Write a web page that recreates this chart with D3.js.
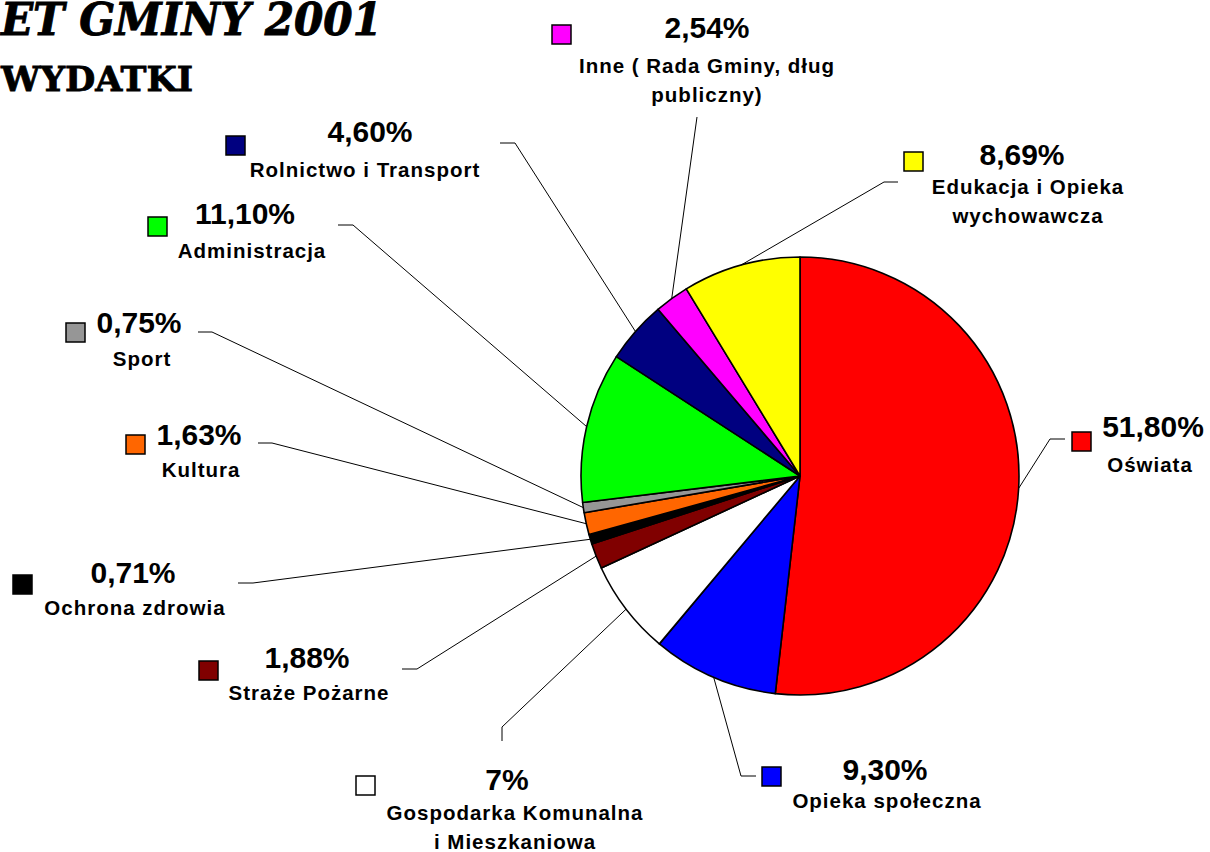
<!DOCTYPE html>
<html>
<head>
<meta charset="utf-8">
<script src="https://cdn.jsdelivr.net/npm/d3@7"></script>
<style>
  html, body { margin: 0; padding: 0; background: #fff; }
  svg { display: block; }
</style>
</head>
<body>
<svg id="chart" width="1210" height="852"></svg>
<script>
// ---- data ----
const categories = [
  "Oświata", "Opieka społeczna", "Gospodarka Komunalna i Mieszkaniowa",
  "Straże Pożarne", "Ochrona zdrowia", "Kultura", "Sport", "Administracja",
  "Rolnictwo i Transport", "Inne ( Rada Gminy, dług publiczny)",
  "Edukacja i Opieka wychowawcza"
];
const values = [51.80, 9.30, 7, 1.88, 0.71, 1.63, 0.75, 11.10, 4.60, 2.54, 8.69];
const valueLabels = ["51,80%", "9,30%", "7%", "1,88%", "0,71%", "1,63%", "0,75%", "11,10%", "4,60%", "2,54%", "8,69%"];
const nameLines = [
  ["Oświata"], ["Opieka społeczna"], ["Gospodarka Komunalna", "i Mieszkaniowa"],
  ["Straże Pożarne"], ["Ochrona zdrowia"], ["Kultura"], ["Sport"], ["Administracja"],
  ["Rolnictwo i Transport"], ["Inne ( Rada Gminy, dług", "publiczny)"],
  ["Edukacja i Opieka", "wychowawcza"]
];
const colors = ["#FF0000", "#0000FF", "#FFFFFF", "#800000", "#000000", "#FF6600",
                "#969696", "#00FF00", "#000080", "#FF00FF", "#FFFF00"];
const titleText = "ET GMINY 2001";
const subtitleText = "WYDATKI";

// ---- layout (label placement) ----
const layout = [
  { sq: [1072, 432], pct: [1153, 437], name: [1150, 472], elbow: [1050, 439], end: [1065, 439] },
  { sq: [762, 767],  pct: [885, 780],  name: [887, 808],  elbow: [741, 776],  end: [756, 776] },
  { sq: [356, 776],  pct: [507, 790],  name: [515, 820],  elbow: [502, 727],  end: [502, 741] },
  { sq: [199, 661],  pct: [307, 668],  name: [309, 700],  elbow: [417, 669],  end: [402, 669] },
  { sq: [13, 575],   pct: [133, 583],  name: [135, 615],  elbow: [253, 583],  end: [238, 583] },
  { sq: [126, 435],  pct: [199, 445],  name: [201, 477],  elbow: [272, 443],  end: [258, 443] },
  { sq: [66, 323],   pct: [139, 333],  name: [142, 366],  elbow: [212, 332],  end: [198, 332] },
  { sq: [148, 217],  pct: [245, 224],  name: [252, 258],  elbow: [353, 225],  end: [338, 225] },
  { sq: [226, 136],  pct: [370, 142],  name: [365, 177],  elbow: [515, 143],  end: [500, 143] },
  { sq: [552, 25],   pct: [707, 38],   name: [707, 73],   elbow: [697, 117],  end: [697, 117] },
  { sq: [904, 152],  pct: [1022, 165], name: [1028, 194], elbow: [884, 182],  end: [898, 182] }
];
const cx = 800, cy = 476, R = 219;
const lineGap = 29;

const svg = d3.select("#chart");

// titles
svg.append("text")
  .attr("x", 1).attr("y", 35)
  .attr("font-family", "DejaVu Serif")
  .attr("font-weight", "bold").attr("font-style", "italic")
  .attr("font-size", 44)
  .attr("textLength", 381).attr("lengthAdjust", "spacingAndGlyphs")
  .attr("stroke", "#000").attr("stroke-width", 0.9)
  .text(titleText);
svg.append("text")
  .attr("x", 1).attr("y", 91)
  .attr("font-family", "DejaVu Serif")
  .attr("font-weight", "bold")
  .attr("font-size", 34)
  .attr("textLength", 192).attr("lengthAdjust", "spacingAndGlyphs")
  .attr("stroke", "#000").attr("stroke-width", 0.8)
  .text(subtitleText);

const data = categories.map((c, i) => ({ cat: c, value: values[i], i }));
const pie = d3.pie().value(d => d.value).sort(null);
const arcs = pie(data);
const arc = d3.arc().innerRadius(0).outerRadius(R);
const edge = d3.arc().innerRadius(R).outerRadius(R);

const g = svg.append("g").attr("transform", `translate(${cx},${cy})`);

// leader lines
svg.append("g").selectAll("polyline")
  .data(arcs)
  .join("polyline")
  .attr("fill", "none")
  .attr("stroke", "#000")
  .attr("stroke-width", 1)
  .attr("points", d => {
    const p = edge.centroid(d);
    const L = layout[d.index];
    return [[cx + p[0], cy + p[1]], L.elbow, L.end].map(q => q.join(",")).join(" ");
  });

// slices
g.selectAll("path")
  .data(arcs)
  .join("path")
  .attr("d", arc)
  .attr("fill", (d, i) => colors[i])
  .attr("stroke", "#000")
  .attr("stroke-width", 1.6)
  .attr("stroke-linejoin", "round");

// labels
const lab = svg.append("g").attr("font-family", "Liberation Sans, Arial, sans-serif")
  .attr("font-weight", "bold").attr("fill", "#000");

arcs.forEach(d => {
  const i = d.index, L = layout[i];
  lab.append("rect")
    .attr("x", L.sq[0]).attr("y", L.sq[1])
    .attr("width", 19).attr("height", 19)
    .attr("fill", colors[i]).attr("stroke", "#000").attr("stroke-width", 1.5);
  lab.append("text")
    .attr("x", L.pct[0]).attr("y", L.pct[1])
    .attr("text-anchor", "middle").attr("font-size", 30)
    .text(valueLabels[i]);
  nameLines[i].forEach((t, k) => {
    lab.append("text")
      .attr("x", L.name[0]).attr("y", L.name[1] + k * lineGap)
      .attr("text-anchor", "middle").attr("font-size", 20.5)
      .attr("letter-spacing", 1)
      .text(t);
  });
});
</script>
</body>
</html>
